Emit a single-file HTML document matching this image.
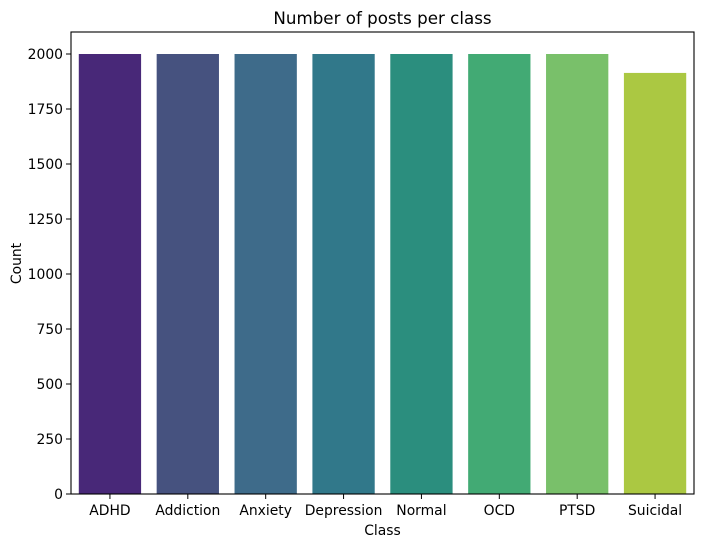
<!DOCTYPE html>
<html><head><meta charset="utf-8"><style>
body{margin:0;background:#fff;font-family:"DejaVu Sans","Liberation Sans",sans-serif;}
</style></head><body>
<svg id="chart" width="704" height="547" xmlns="http://www.w3.org/2000/svg" font-family="DejaVu Sans, Liberation Sans, sans-serif">
<rect width="704" height="547" fill="#fff"/>
<text x="382.5" y="24" text-anchor="middle" font-size="16.7">Number of posts per class</text>
<g id="bars"></g>
<g id="axes"></g>
<text x="382.5" y="535" text-anchor="middle" font-size="13.9">Class</text>
<text transform="translate(21,263.5) rotate(-90)" text-anchor="middle" font-size="13.9">Count</text>
</svg>
<script>
const categories=["ADHD","Addiction","Anxiety","Depression","Normal","OCD","PTSD","Suicidal"];
const counts=[2000,2000,2000,2000,2000,2000,2000,1914];
const colors=["#482878","#46527f","#3e6b8a","#31788a","#2b8e7e","#42aa74","#79c06a","#abc842"];
const yTicks=[0,250,500,750,1000,1250,1500,1750,2000];
const L=71,R=694,T=32,B=494,YMAX=2100;
const ns="http://www.w3.org/2000/svg";
const y=v=>B-(v/YMAX)*(B-T);
const step=(R-L)/categories.length;
const x=i=>L+step*i+step/2;
const bars=document.getElementById('bars'),axes=document.getElementById('axes');
function mk(t,a,p){const e=document.createElementNS(ns,t);for(const k in a)e.setAttribute(k,a[k]);p.appendChild(e);return e;}
categories.forEach((c,i)=>{
 const r=mk('rect',{x:x(i)-step*0.4,y:y(counts[i]),width:step*0.8,height:B-y(counts[i]),fill:colors[i]},bars);
 
 
 mk('line',{x1:x(i),x2:x(i),y1:B,y2:B+5,stroke:'#000','stroke-width':1},axes);
 const t=mk('text',{x:x(i),y:B+21,'text-anchor':'middle','font-size':13.9},axes);
 t.textContent=c;
 
 
});
yTicks.forEach(v=>{
 mk('line',{x1:L-5,x2:L,y1:y(v),y2:y(v),stroke:'#000','stroke-width':1},axes);
 const t=mk('text',{x:L-8,y:y(v)+5,'text-anchor':'end','font-size':13.9},axes);
 t.textContent=v;
 
 
});
const f=mk('rect',{x:L,y:T,width:R-L,height:B-T,fill:'none',stroke:'#000','stroke-width':1.1},axes);


</script>
</body></html>
